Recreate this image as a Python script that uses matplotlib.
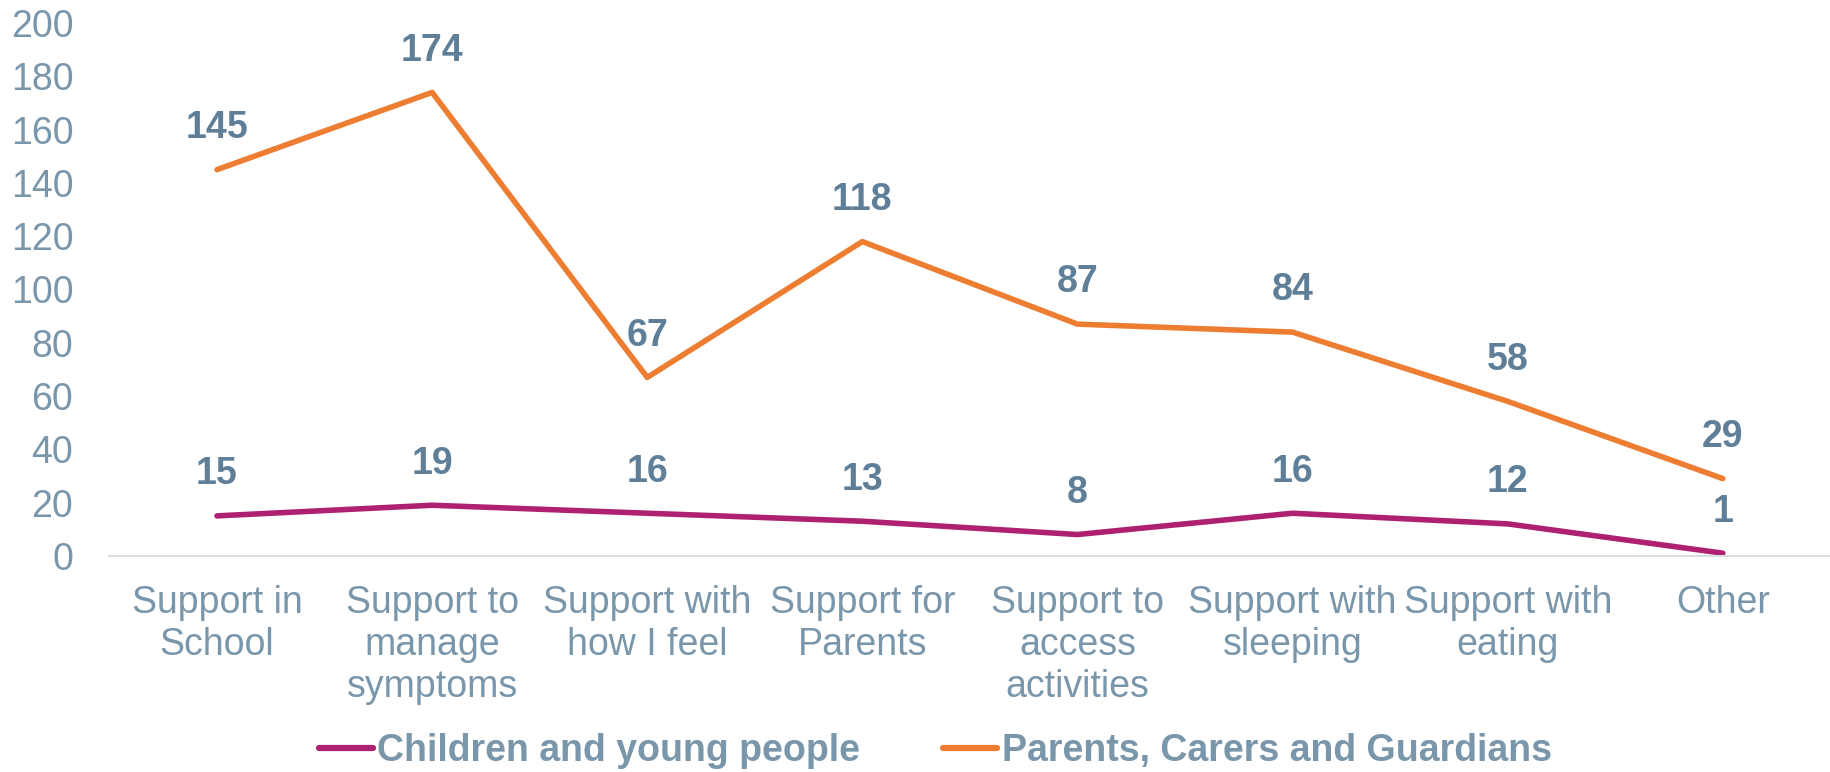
import numpy as np
import matplotlib.pyplot as plt
from matplotlib.lines import Line2D

plt.rcParams['font.family'] = ['Liberation Sans', 'DejaVu Sans']

# datos
categorias = ['Support in\nSchool', 'Support to\nmanage\nsymptoms', 'Support with\nhow I feel',
              'Support for\nParents', 'Support to\naccess\nactivities', 'Support with\nsleeping',
              'Support with\neating', 'Other']
ninos = [15, 19, 16, 13, 8, 16, 12, 1]
padres = [145, 174, 67, 118, 87, 84, 58, 29]

c_ninos = '#AE2070'
c_padres = '#ED7D31'
c_texto = '#7A96AB'
c_etiq = '#5F7F99'

fig = plt.figure(figsize=(18.3, 7.72), dpi=100)
ax = fig.add_axes([0.0598, 0.280, 0.9404, 0.690])

x = np.arange(len(categorias))
ax.plot(x, ninos, color=c_ninos, lw=4, solid_capstyle='round')
ax.plot(x, padres, color=c_padres, lw=4, solid_capstyle='round')

# etiquetas de valor sobre cada punto
for serie in (ninos, padres):
    for xi, v in zip(x, serie):
        ax.annotate(str(v), (xi, v), xytext=(0, 30), textcoords='offset points',
                    ha='center', va='center', fontsize=27, fontweight='bold', color=c_etiq)

ax.set_xlim(-0.5, len(categorias) - 0.5)
ax.set_ylim(0, 200)
ax.set_yticks(range(0, 201, 20))
ax.set_xticks(x)
ax.set_xticklabels(categorias, linespacing=1.22)
ax.tick_params(axis='both', length=0, labelsize=27, labelcolor=c_texto)
ax.tick_params(axis='y', pad=26)
ax.tick_params(axis='x', pad=21)

for s in ['top', 'right', 'left']:
    ax.spines[s].set_visible(False)
ax.spines['bottom'].set_color('#D9DDE2')
ax.spines['bottom'].set_linewidth(1.5)

handles = [Line2D([], [], color=c_ninos, lw=4.5, solid_capstyle='round'),
           Line2D([], [], color=c_padres, lw=4.5, solid_capstyle='round')]
leg = fig.legend(handles, ['Children and young people', 'Parents, Carers and Guardians'],
                 loc='center', bbox_to_anchor=(0.511, 0.027), ncol=2, frameon=False,
                 handlelength=1.45, handletextpad=0.12, columnspacing=2.2,
                 prop={'size': 27, 'weight': 'bold'})
for t in leg.get_texts():
    t.set_color(c_texto)

fig.savefig('out.png', dpi=100)
